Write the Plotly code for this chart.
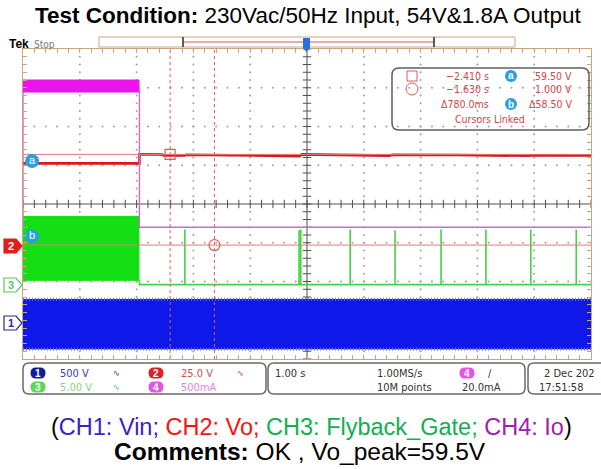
import plotly.graph_objects as go

W, H = 601, 469
GX0, GX1, GY0, GY1 = 23, 591, 49, 359   # graticule box in page pixels


def px(x):
    return x / W


def py(y):
    return 1 - y / H


# ---- acquisition settings -------------------------------------------------
ch_scale = {"1": 500.0, "2": 25.0, "3": 5.0, "4": 0.5}   # units per division
ch_pos = {"1": -3.1, "2": -1.1, "3": -2.1, "4": -0.6}    # ground position, div


def to_div(ch, values):
    return [v / ch_scale[ch] + ch_pos[ch] for v in values]


# ---- CH1 Vin (230 Vac line, drawn as its peak envelope) ----
vin_t = [-5.0, 5.0]
vin_pos_peak = [325.0, 325.0]
vin_neg_peak = [-325.0, -325.0]

# ---- CH2 Vo ----
vo_t = [-5.0, -2.95, -2.95, -2.56, -2.52, -2.16, -2.12, -1.2, -0.13, -0.09,
        0.6, 1.45, 1.5, 2.6, 2.65, 3.9, 3.95, 5.0]
vo_v = [53.7, 53.7, 59.5, 59.4, 58.9, 58.8, 59.3, 59.0, 58.4, 59.5,
        59.2, 58.7, 59.2, 58.7, 59.1, 58.6, 59.0, 58.8]

# ---- CH3 Flyback gate ----
gate_burst_t = [-5.0, -2.95]
gate_burst_hi = [8.9, 8.9]
gate_burst_lo = [0.65, 0.65]
gate_idle_t = [-2.95, 5.0]
gate_idle_v = 0.1
gate_pulse_t = [-2.15, -0.14, -0.11, 0.76, 1.55, 2.36, 3.15, 3.94, 4.74]
gate_pulse_v = [7.2, 7.1, 7.2, 7.2, 7.1, 7.2, 7.2, 7.2, 7.2]

# ---- CH4 Io ----
io_on_t = [-5.0, -2.95]
io_on_hi = [1.90, 1.90]
io_on_lo = [1.745, 1.745]
io_on_level = 1.81
io_off_t = [-2.95, 5.0]
io_off_v = [0.0, 0.0]

# ---- cursors ----
cursor_t = [-2.410, -1.630]
cursor_v = [59.50, 1.000]

BLUE = "rgb(14,24,232)"
RED = "rgb(214,26,26)"
GREEN = "rgb(20,222,20)"
GREEN_LINE = "rgb(70,210,70)"
MAGENTA = "rgb(236,20,236)"
MAGENTA_LINE = "rgb(214,100,214)"
TAN = "rgb(205,165,125)"
CURSOR = "rgb(222,90,90)"

fig = go.Figure()

# graticule dots (every 1/5 division along each major line)
gx, gy = [], []
for xv in range(-4, 5):
    if xv == 0:
        continue
    for k in range(-20, 21):
        gx.append(xv)
        gy.append(k / 5)
for yv in range(-3, 4):
    if yv == 0:
        continue
    for k in range(-25, 26):
        gx.append(k / 5)
        gy.append(yv)
fig.add_trace(go.Scatter(x=gx, y=gy, mode="markers",
                         marker=dict(size=2, color="rgb(160,160,160)"),
                         hoverinfo="skip"))

# centre crosshair with minor ticks
minor_x = [k / 5 for k in range(-25, 26)]
minor_y = [k / 5 for k in range(-20, 21)]
fig.add_trace(go.Scatter(x=[-5, 5], y=[0, 0], mode="lines",
                         line=dict(color="rgb(80,80,80)", width=1), hoverinfo="skip"))
fig.add_trace(go.Scatter(x=[0, 0], y=[-4, 4], mode="lines",
                         line=dict(color="rgb(80,80,80)", width=1), hoverinfo="skip"))
fig.add_trace(go.Scatter(x=minor_x, y=[0] * len(minor_x), mode="markers",
                         marker=dict(symbol="line-ns", size=6,
                                     line=dict(color="rgb(80,80,80)", width=1)),
                         hoverinfo="skip"))
fig.add_trace(go.Scatter(x=[0] * len(minor_y), y=minor_y, mode="markers",
                         marker=dict(symbol="line-ew", size=6,
                                     line=dict(color="rgb(80,80,80)", width=1)),
                         hoverinfo="skip"))

# CH1 envelope
fig.add_trace(go.Scatter(x=vin_t, y=to_div("1", vin_neg_peak), mode="lines",
                         line=dict(width=0, color=BLUE), hoverinfo="skip"))
fig.add_trace(go.Scatter(x=vin_t, y=to_div("1", vin_pos_peak), mode="lines",
                         fill="tonexty", fillcolor=BLUE,
                         line=dict(width=0, color=BLUE), hoverinfo="skip"))
for edge in (vin_pos_peak, vin_neg_peak):
    fig.add_trace(go.Scatter(x=vin_t, y=to_div("1", [e * 0.985 for e in edge]),
                             mode="lines",
                             line=dict(width=3, color="rgb(95,105,240)", dash="1px,2px"),
                             hoverinfo="skip"))

# CH3 gate
fig.add_trace(go.Scatter(x=gate_burst_t, y=to_div("3", gate_burst_lo), mode="lines",
                         line=dict(width=1, color=GREEN), hoverinfo="skip"))
fig.add_trace(go.Scatter(x=gate_burst_t, y=to_div("3", gate_burst_hi), mode="lines",
                         fill="tonexty", fillcolor=GREEN,
                         line=dict(width=1, color=GREEN), hoverinfo="skip"))
g_x = [gate_idle_t[0], gate_idle_t[0]]
g_y = [gate_burst_lo[0], gate_idle_v]
for t, v in zip(gate_pulse_t, gate_pulse_v):
    g_x += [t, t, t]
    g_y += [gate_idle_v, v, gate_idle_v]
g_x.append(gate_idle_t[1])
g_y.append(gate_idle_v)
fig.add_trace(go.Scatter(x=g_x, y=to_div("3", g_y), mode="lines",
                         line=dict(width=1.6, color=GREEN_LINE), hoverinfo="skip"))

# CH2 Vo
fig.add_trace(go.Scatter(x=vo_t, y=to_div("2", vo_v), mode="lines",
                         line=dict(width=2.6, color=RED), hoverinfo="skip"))

# CH4 Io
fig.add_trace(go.Scatter(x=[io_on_t[0], io_on_t[0]],
                         y=to_div("4", [io_off_v[0], io_on_level]), mode="lines",
                         line=dict(width=1.4, color=MAGENTA_LINE), hoverinfo="skip"))
fig.add_trace(go.Scatter(x=io_on_t, y=to_div("4", io_on_lo), mode="lines",
                         line=dict(width=1, color=MAGENTA), hoverinfo="skip"))
fig.add_trace(go.Scatter(x=io_on_t, y=to_div("4", io_on_hi), mode="lines",
                         fill="tonexty", fillcolor=MAGENTA,
                         line=dict(width=1, color=MAGENTA), hoverinfo="skip"))
fig.add_trace(go.Scatter(x=[io_off_t[0]] + io_off_t,
                         y=to_div("4", [io_on_level] + io_off_v), mode="lines",
                         line=dict(width=1.4, color=MAGENTA_LINE), hoverinfo="skip"))

# cursors (time bars dashed, amplitude bars solid)
for t in cursor_t:
    fig.add_trace(go.Scatter(x=[t, t], y=[-4, 4], mode="lines",
                             line=dict(width=1, color=CURSOR, dash="3px,3px"),
                             hoverinfo="skip"))
for v in cursor_v:
    fig.add_trace(go.Scatter(x=[-5, 5], y=to_div("2", [v, v]), mode="lines",
                             line=dict(width=1, color="rgb(228,120,120)"),
                             hoverinfo="skip"))
fig.add_trace(go.Scatter(x=[cursor_t[0]], y=to_div("2", [cursor_v[0]]), mode="markers",
                         marker=dict(symbol="square-open", size=10, color=CURSOR,
                                     line=dict(color=CURSOR, width=1.2)),
                         hoverinfo="skip"))
fig.add_trace(go.Scatter(x=[cursor_t[1]], y=to_div("2", [cursor_v[1]]), mode="markers",
                         marker=dict(symbol="circle-open", size=11, color=CURSOR,
                                     line=dict(color=CURSOR, width=1.2)),
                         hoverinfo="skip"))
fig.add_trace(go.Scatter(x=[-4.84, -4.84], y=[1.11, -0.83], mode="markers+text",
                         text=["a", "b"], textposition="middle center",
                         textfont=dict(color="white", size=11, family="Liberation Sans"),
                         marker=dict(size=14, color="rgb(40,160,222)"),
                         hoverinfo="skip"))

fig.update_layout(
    width=W, height=H, margin=dict(l=0, r=0, t=0, b=0),
    paper_bgcolor="white", plot_bgcolor="white", showlegend=False,
    xaxis=dict(domain=[px(GX0), px(GX1)], range=[-5, 5], showgrid=False,
               zeroline=False, showticklabels=False, ticks="inside", dtick=0.2,
               tick0=0, ticklen=4, tickcolor=TAN, showline=True, linecolor=TAN,
               linewidth=1, mirror="ticks", fixedrange=True),
    yaxis=dict(domain=[py(GY1), py(GY0)], range=[-4, 4], showgrid=False,
               zeroline=False, showticklabels=False, ticks="inside", dtick=0.2,
               tick0=0, ticklen=4, tickcolor=TAN, showline=True, linecolor=TAN,
               linewidth=1, mirror="ticks", fixedrange=True),
)


def rrect_path(x0, y0, x1, y1, r):
    rx, ry = r / W, r / H
    a, b, c, d = px(x0), py(y0), px(x1), py(y1)
    return (f"M {a + rx},{b} L {c - rx},{b} Q {c},{b} {c},{b - ry} "
            f"L {c},{d + ry} Q {c},{d} {c - rx},{d} L {a + rx},{d} "
            f"Q {a},{d} {a},{d + ry} L {a},{b - ry} Q {a},{b} {a + rx},{b} Z")


shapes = []
ann = []
SCOPE_FONT = "Liberation Sans Narrow, DejaVu Sans Condensed, Liberation Sans"


def text(x, y, s, size=10, color="black", anchor="left", family=SCOPE_FONT, bold=False):
    ann.append(dict(x=px(x), y=py(y), xref="paper", yref="paper", text=f"<b>{s}</b>" if bold else s,
                    showarrow=False, xanchor=anchor, yanchor="middle",
                    font=dict(size=size, color=color, family=family)))


# cursor readout box
shapes.append(dict(type="path", path=rrect_path(392, 68, 589, 130, 7), xref="paper", yref="paper",
                   line=dict(color="rgb(95,95,95)", width=1.5)))
shapes.append(dict(type="rect", xref="paper", yref="paper", x0=px(407), x1=px(417),
                   y0=py(81), y1=py(71), line=dict(color=CURSOR, width=1)))
shapes.append(dict(type="circle", xref="paper", yref="paper", x0=px(406), x1=px(418),
                   y0=py(95), y1=py(83), line=dict(color=CURSOR, width=1)))
RC = "rgb(205,72,72)"
text(491, 76, "\u22122.410 s", 10.5, RC, "right")
text(491, 89, "\u22121.630 s", 10.5, RC, "right")
text(491, 104, "\u0394780.0ms", 10.5, RC, "right")
text(574, 76, "59.50 V", 10.5, RC, "right")
text(574, 89, "1.000 V", 10.5, RC, "right")
text(574, 104, "\u039458.50 V", 10.5, RC, "right")
text(490, 119, "Cursors Linked", 10.5, RC, "center")
for yy, s in ((76, "a"), (104, "b")):
    shapes.append(dict(type="circle", xref="paper", yref="paper", x0=px(505), x1=px(517),
                       y0=py(yy + 6), y1=py(yy - 6), fillcolor="rgb(40,160,222)",
                       line=dict(width=0)))
    text(511, yy, s, 10, "white", "center", "Liberation Sans", True)

# channel ground markers
for yy, label, fill, edge, tcol in ((246, "2", "rgb(225,30,30)", "rgb(225,30,30)", "white"),
                                     (285, "3", "white", "rgb(90,200,90)", "rgb(90,200,90)"),
                                     (323, "1", "white", "rgb(40,40,140)", "rgb(40,40,140)")):
    pth = (f"M {px(4)},{py(yy - 7)} L {px(16)},{py(yy - 7)} L {px(22)},{py(yy)} "
           f"L {px(16)},{py(yy + 7)} L {px(4)},{py(yy + 7)} Z")
    shapes.append(dict(type="path", path=pth, xref="paper", yref="paper",
                       fillcolor=fill, line=dict(color=edge, width=1.2)))
    text(11, yy, label, 11, tcol, "center", "Liberation Sans", True)

# top status strip
text(7, 44, "Tek", 12, "black", "left", "Liberation Sans", True)
text(32, 44, "Stop", 10, "rgb(120,120,120)", "left", SCOPE_FONT)
shapes.append(dict(type="rect", xref="paper", yref="paper", x0=px(99), x1=px(515),
                   y0=py(47), y1=py(37), line=dict(color=TAN, width=1)))
shapes.append(dict(type="line", xref="paper", yref="paper", x0=px(183), x1=px(434),
                   y0=py(42), y1=py(42), line=dict(color="rgb(220,80,80)", width=1.2)))
for xx in (183, 434):
    shapes.append(dict(type="line", xref="paper", yref="paper", x0=px(xx), x1=px(xx),
                       y0=py(37), y1=py(47), line=dict(color="rgb(40,40,40)", width=1.5)))
shapes.append(dict(type="path", xref="paper", yref="paper",
                   path=(f"M {px(303)},{py(38)} L {px(310)},{py(38)} L {px(310)},{py(48)} "
                         f"L {px(306.5)},{py(52)} L {px(303)},{py(48)} Z"),
                   fillcolor="rgb(40,110,220)", line=dict(width=0)))

# bottom settings panels
PANEL = "rgb(105,105,105)"
for x0, x1 in ((23, 266), (268, 525), (528, 640)):
    shapes.append(dict(type="path", path=rrect_path(x0, 363, x1, 394, 6), xref="paper",
                       yref="paper", line=dict(color=PANEL, width=1.5)))


def badge(xc, yc, label, fill):
    shapes.append(dict(type="path", path=rrect_path(xc - 7.5, yc - 5.5, xc + 7.5, yc + 5.5, 5.5),
                       xref="paper", yref="paper", fillcolor=fill, line=dict(width=0)))
    text(xc, yc, label, 10, "white", "center", "Liberation Sans", True)


badge(38, 373, "1", "rgb(20,30,150)")
badge(38, 387, "3", "rgb(90,215,90)")
badge(156, 373, "2", "rgb(222,34,34)")
badge(156, 387, "4", "rgb(232,80,232)")
badge(467, 373, "4", "rgb(232,80,232)")
text(58, 373, "500 V", 11, "rgb(60,60,170)")
text(58, 387, "5.00 V", 11, "rgb(130,215,130)")
text(179, 373, "25.0 V", 11, "rgb(205,80,80)")
text(179, 387, "500mA", 11, "rgb(225,130,225)")
text(116, 373, "\u223f", 9, "rgb(60,60,170)", "center")
text(116, 387, "\u223f", 9, "rgb(90,200,90)", "center")
text(240, 373, "\u223f", 9, "rgb(205,80,80)", "center")
text(273, 373, "1.00 s", 11, "rgb(50,50,50)")
text(375, 373, "1.00MS/s", 11, "rgb(50,50,50)")
text(375, 387, "10M points", 11, "rgb(50,50,50)")
text(486, 373, "/", 11, "rgb(50,50,50)")
text(460, 387, "20.0mA", 11, "rgb(50,50,50)")
text(597, 373, "2 Dec 202", 11, "rgb(50,50,50)", "right")
text(537, 387, "17:51:58", 11, "rgb(50,50,50)")

# captions
CAP = "Liberation Sans, Arial"
text(308, 16, "<b>Test Condition:</b> 230Vac/50Hz Input, 54V&amp;1.8A Output", 22.5, "black",
     "center", CAP)
text(311, 427,
     '(<span style="color:#3a22c8">CH1: Vin;</span> '
     '<span style="color:#ff1010">CH2: Vo;</span> '
     '<span style="color:#10b050">CH3: Flyback_Gate;</span> '
     '<span style="color:#a020b0">CH4: Io</span>)', 23.5, "black", "center", CAP)
text(488, 451, "<b>Comments:</b> OK , Vo_peak=59.5V", 24.5, "black", "right", CAP)

fig.update_layout(shapes=shapes, annotations=ann)
fig.write_html("out.html")
